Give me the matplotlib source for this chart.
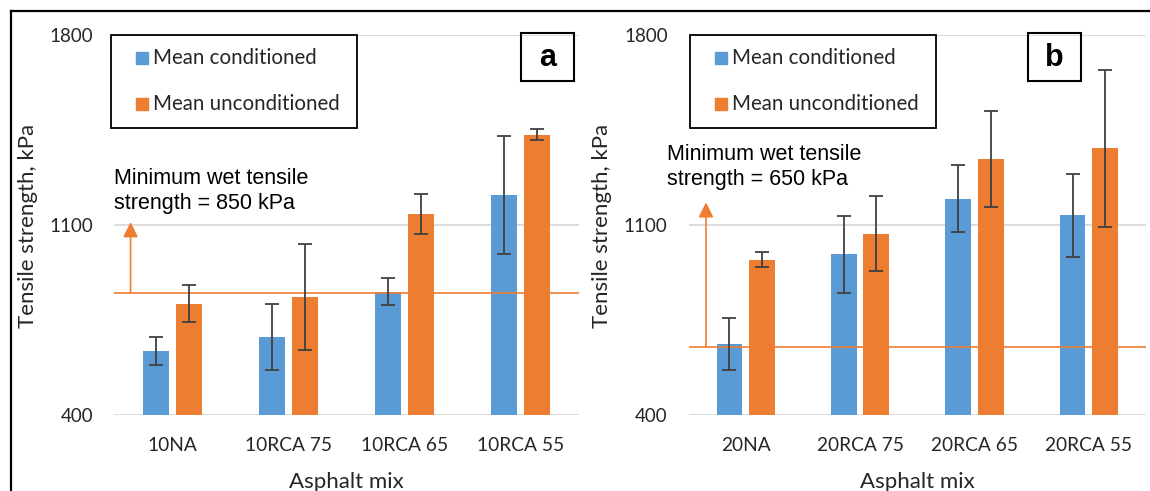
import matplotlib
matplotlib.use("Agg")
import matplotlib.pyplot as plt
from matplotlib.patches import Rectangle
import numpy as np

# ---------------- data ----------------
cats_a = ["10NA", "10RCA 75", "10RCA 65", "10RCA 55"]
cond_a = [636, 687, 853, 1210]
cond_err_a = [51, 122, 50, 217]
uncond_a = [810, 835, 1139, 1433]
uncond_err_a = [68, 195, 74, 21]
min_a = 850

cats_b = ["20NA", "20RCA 75", "20RCA 65", "20RCA 55"]
cond_b = [660, 991, 1196, 1135]
cond_err_b = [97, 142, 124, 153]
uncond_b = [972, 1068, 1343, 1382]
uncond_err_b = [28, 137, 178, 290]
min_b = 650

yticks = [400, 1100, 1800]
legend_labels = ["Mean conditioned", "Mean unconditioned"]

BLUE = "#5b9bd5"
ORANGE = "#ed7d31"
GRID = "#d9d9d9"
ERR = "#404040"
TXT = "#262626"

W, H = 1150, 491
fig = plt.figure(figsize=(W / 100, H / 100), dpi=100)

def fx(px):
    return px / W

def fy(py):
    return 1 - py / H

XFONT = "Lato"
AFONT = "Liberation Sans"

def panel(left_px, right_px, cats, cond, cerr, unc, uerr, minv, arrow_top, letter,
          leg_left, leg_right, box_left, box_right, note_x, note_left, note_yc, ylab_x):
    ax = fig.add_axes([fx(left_px), fy(414.7), fx(right_px - left_px), (414.7 - 35) / H])
    x = np.arange(len(cats))
    bw = 0.225
    off = 0.142
    ax.set_ylim(400, 1800)
    ax.set_xlim(-0.5, len(cats) - 0.5)
    for y in yticks:
        ax.axhline(y, color=GRID, lw=1.3, zorder=0)
    ax.bar(x - off, cond, bw, color=BLUE, zorder=2)
    ax.bar(x + off, unc, bw, color=ORANGE, zorder=2)
    ax.errorbar(x - off, cond, yerr=cerr, fmt="none", ecolor=ERR, elinewidth=1.3,
                capsize=5, capthick=1.3, zorder=4)
    ax.errorbar(x + off, unc, yerr=uerr, fmt="none", ecolor=ERR, elinewidth=1.3,
                capsize=5, capthick=1.3, zorder=4)
    ax.axhline(minv, color=ORANGE, lw=1.2, zorder=3)
    ax.annotate("", xy=(note_x, arrow_top), xytext=(note_x, minv),
                arrowprops=dict(arrowstyle="-|>,head_length=0.9,head_width=0.45",
                                mutation_scale=10,
                                color=ORANGE, lw=1.2, shrinkA=0, shrinkB=0), zorder=3)
    for s in ax.spines.values():
        s.set_visible(False)
    ax.set_yticks(yticks)
    ax.set_yticklabels([str(v) for v in yticks], fontfamily=XFONT, fontsize=13.5, color=TXT)
    ax.set_xticks(x)
    ax.set_xticklabels(cats, fontfamily=XFONT, fontsize=13.8, color=TXT)
    ax.tick_params(axis="y", length=0, pad=15)
    ax.tick_params(axis="x", length=0, pad=16)
    ax.set_xlabel("Asphalt mix", fontfamily=XFONT, fontsize=16, color=TXT, labelpad=13)
    fig.text(fx(ylab_x), fy(225.5), "Tensile strength, kPa", rotation=90, fontfamily=XFONT,
             fontsize=16, color=TXT, ha="center", va="center")

    # annotation text
    fig.text(fx(note_left), fy(note_yc), "Minimum wet tensile\nstrength = %d kPa" % minv,
             fontfamily=AFONT, fontsize=15.5, color="black", va="center", ha="left",
             linespacing=1.25)

    # legend box
    fig.patches.append(Rectangle((fx(leg_left), fy(128)), fx(leg_right - leg_left), (128 - 35) / H,
                                 transform=fig.transFigure, fill=False, ec="black", lw=1.3, zorder=5))
    for i, (lab, col) in enumerate(zip(legend_labels, [BLUE, ORANGE])):
        yc = [58, 104][i]
        sq = 12
        fig.patches.append(Rectangle((fx(leg_left + 25), fy(yc + sq / 2)), fx(sq), sq / H,
                                     transform=fig.transFigure, color=col, zorder=6))
        fig.text(fx(leg_left + 42), fy(yc), lab, fontfamily=XFONT, fontsize=14.8, color=TXT,
                 va="center", ha="left")
    # letter box
    fig.patches.append(Rectangle((fx(box_left), fy(81)), fx(box_right - box_left), (81 - 33) / H,
                                 transform=fig.transFigure, fill=False, ec="black", lw=1.5, zorder=5))
    fig.text(fx((box_left + box_right) / 2), fy(58), letter, fontfamily=AFONT, fontsize=22,
             fontweight="bold", ha="center", va="center", color="black")
    return ax

panel(114.2, 578.6, cats_a, cond_a, cond_err_a, uncond_a, uncond_err_a, min_a, 1110, "a",
      110.6, 357, 521, 574, -0.359, 114, 190.5, 28.5)
panel(688.5, 1146, cats_b, cond_b, cond_err_b, uncond_b, uncond_err_b, min_b, 1183, "b",
      690, 936, 1028, 1081, -0.347, 667, 166.5, 602.5)

# outer frame
fig.add_artist(plt.Line2D([fx(10.5), fx(10.5)], [fy(11), 0], transform=fig.transFigure, color="black", lw=1.6))
fig.add_artist(plt.Line2D([fx(10.5), 1], [fy(11), fy(11)], transform=fig.transFigure, color="black", lw=1.6))

fig.savefig("out.png", dpi=100)
